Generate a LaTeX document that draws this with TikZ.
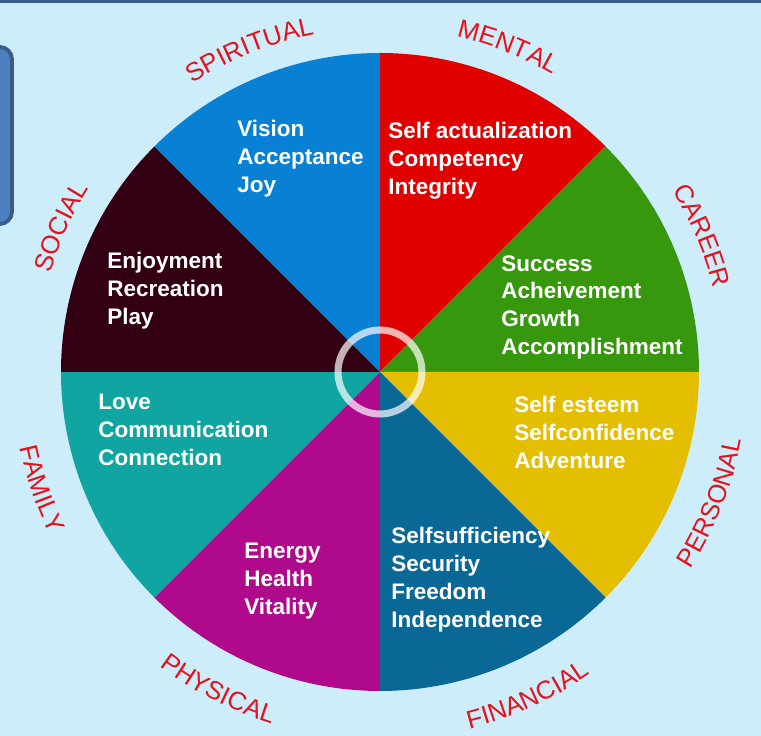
\documentclass[tikz,border=0pt]{standalone}
\usepackage{fontspec}
\setmainfont{Liberation Sans}
\usetikzlibrary{decorations.text}

\definecolor{bgblue}{RGB}{206,237,250}
\definecolor{frameblue}{RGB}{56,92,140}
\definecolor{boxblue}{RGB}{78,127,190}
\definecolor{spiritcol}{RGB}{8,128,212}
\definecolor{mentalcol}{RGB}{224,0,0}
\definecolor{careercol}{RGB}{55,152,14}
\definecolor{personalcol}{RGB}{228,190,0}
\definecolor{financecol}{RGB}{10,104,150}
\definecolor{physicalcol}{RGB}{176,10,140}
\definecolor{familycol}{RGB}{16,165,160}
\definecolor{socialcol}{RGB}{50,0,18}
\definecolor{labred}{RGB}{228,18,30}

\newcommand{\labfont}{\fontsize{14.6}{17}\selectfont}

\begin{document}
\begin{tikzpicture}[x=0.02cm,y=0.02cm,
    words/.style={align=left,anchor=north west,inner sep=0pt,text=white,
        font=\bfseries\fontsize{12.8}{15.9}\selectfont}]
    \useasboundingbox (-380,-364) rectangle (381,372);
    \fill[bgblue] (-380,-364) rectangle (381,372);
    \fill[frameblue] (-380,369) rectangle (381,372);
    % side box, mostly cut off
    \draw[fill=boxblue,draw=frameblue,line width=2.2pt,rounded corners=7pt]
        (-410,325) rectangle (-368,148);

    % the eight slices, going clockwise from the top
    \foreach \a/\col in {90/mentalcol,45/careercol,0/personalcol,-45/financecol,
                         -90/physicalcol,-135/familycol,180/socialcol,135/spiritcol}
        \fill[\col] (0,0) -- (\a:319) arc[start angle=\a,end angle=\a-45,radius=319] -- cycle;

    % ring in the middle
    \draw[white,opacity=0.7,line width=4pt] (0,0) circle[radius=42];

    % names round the rim (top half reads clockwise, bottom half anticlockwise)
    \foreach \m/\lab in {112/SPIRITUAL,68.5/MENTAL,23/CAREER,155.5/SOCIAL}
        \path[decorate,decoration={text along path,text align=center,
              text={|\labfont\color{labred}|\lab}}]
            (\m+40:344) arc[start angle=\m+40,end angle=\m-40,radius=344];
    \foreach \m/\lab in {-21.5/PERSONAL,-65.5/FINANCIAL,-117/PHYSICAL,-161/FAMILY}
        \path[decorate,decoration={text along path,text align=center,
              text={|\labfont\color{labred}|\lab}}]
            (\m-40:368) arc[start angle=\m-40,end angle=\m+40,radius=368];

    % values inside each slice
    \node at (-143,252) [words] (spiritual) {Vision\\Acceptance\\Joy};
    \node at (8,250) [words] (mental) {Self actualization\\Competency\\Integrity};
    \node at (121,117) [words] (career) {Success\\Acheivement\\Growth\\Accomplishment};
    \node at (-273,120) [words] (social) {Enjoyment\\Recreation\\Play};
    \node at (-282,-22) [words] (family) {Love\\Communication\\Connection};
    \node at (134,-24) [words] (personal) {Self esteem\\Selfconfidence\\Adventure};
    \node at (11,-155) [words] (financial) {Selfsufficiency\\Security\\Freedom\\Independence};
    \node at (-136,-171) [words] (physical) {Energy\\Health\\Vitality};
\end{tikzpicture}
\end{document}
